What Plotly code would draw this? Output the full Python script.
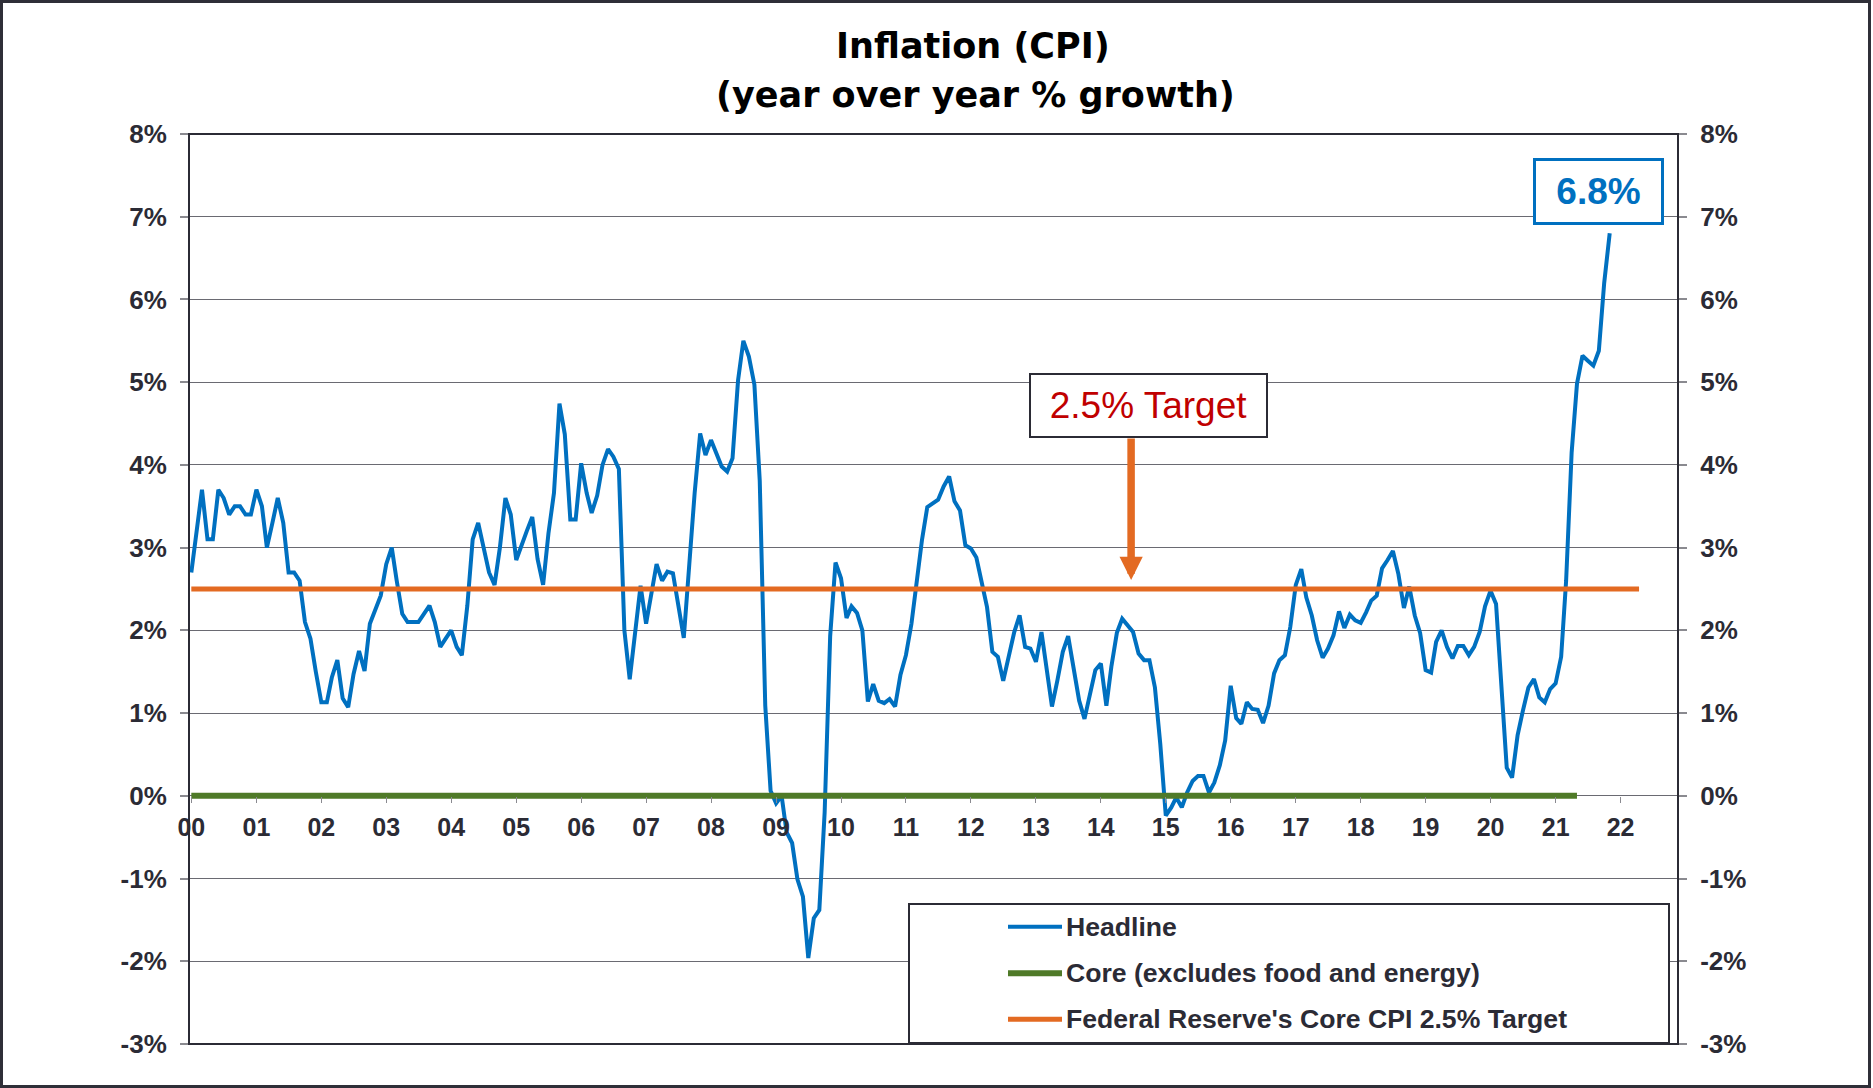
import pandas as pd
import plotly.graph_objects as go

# ---------------- data ----------------
# Headline CPI, year-over-year % growth, monthly Jan 2000 .. Nov 2021
headline_2000 = [2.7, 3.2, 3.7, 3.1, 3.1, 3.7, 3.6, 3.4, 3.5, 3.5, 3.4, 3.4]
headline_2001 = [3.7, 3.5, 3.0, 3.3, 3.6, 3.3, 2.7, 2.7, 2.6, 2.1, 1.9, 1.5]
headline_2002 = [1.13, 1.13, 1.43, 1.64, 1.18, 1.07, 1.47, 1.75, 1.51, 2.08, 2.25, 2.42]
headline_2003 = [2.8, 3.0, 2.6, 2.2, 2.1, 2.1, 2.1, 2.2, 2.3, 2.1, 1.8, 1.9]
headline_2004 = [2.0, 1.8, 1.7, 2.3, 3.1, 3.3, 3.0, 2.7, 2.55, 3.0, 3.6, 3.4]
headline_2005 = [2.85, 3.05, 3.2, 3.37, 2.86, 2.55, 3.17, 3.66, 4.74, 4.37, 3.34, 3.34]
headline_2006 = [4.02, 3.66, 3.42, 3.63, 4.0, 4.19, 4.1, 3.95, 2.0, 1.41, 1.98, 2.54]
headline_2007 = [2.08, 2.45, 2.8, 2.6, 2.71, 2.69, 2.3, 1.91, 2.8, 3.66, 4.38, 4.12]
headline_2008 = [4.3, 4.13, 3.98, 3.92, 4.08, 5.02, 5.5, 5.31, 4.97, 3.81, 1.09, 0.06]
headline_2009 = [-0.09, 0.0, -0.44, -0.57, -1.01, -1.22, -1.96, -1.48, -1.38, -0.2, 1.93, 2.82]
headline_2010 = [2.63, 2.15, 2.29, 2.21, 2.0, 1.14, 1.35, 1.15, 1.12, 1.17, 1.08, 1.46]
headline_2011 = [1.7, 2.08, 2.57, 3.09, 3.49, 3.53, 3.58, 3.74, 3.86, 3.56, 3.45, 3.03]
headline_2012 = [2.99, 2.88, 2.61, 2.28, 1.74, 1.68, 1.39, 1.7, 1.98, 2.18, 1.8, 1.78]
headline_2013 = [1.62, 1.98, 1.52, 1.08, 1.39, 1.74, 1.93, 1.52, 1.15, 0.93, 1.21, 1.52]
headline_2014 = [1.6, 1.09, 1.56, 1.97, 2.14, 2.06, 1.98, 1.72, 1.64, 1.64, 1.31, 0.63]
headline_2015 = [-0.24, -0.14, -0.02, -0.14, 0.04, 0.18, 0.24, 0.24, 0.04, 0.16, 0.37, 0.67]
headline_2016 = [1.33, 0.94, 0.87, 1.13, 1.05, 1.04, 0.88, 1.09, 1.48, 1.64, 1.7, 2.04]
headline_2017 = [2.55, 2.74, 2.4, 2.18, 1.88, 1.67, 1.78, 1.94, 2.23, 2.03, 2.19, 2.12]
headline_2018 = [2.09, 2.22, 2.36, 2.42, 2.75, 2.85, 2.96, 2.68, 2.27, 2.53, 2.18, 1.97]
headline_2019 = [1.52, 1.49, 1.86, 2.0, 1.8, 1.66, 1.81, 1.81, 1.7, 1.8, 1.98, 2.29]
headline_2020 = [2.48, 2.32, 1.43, 0.34, 0.22, 0.73, 1.03, 1.31, 1.41, 1.19, 1.13, 1.29]
headline_2021 = [1.36, 1.68, 2.6, 4.15, 4.98, 5.32, 5.26, 5.2, 5.38, 6.2, 6.8]

headline_yoy = (headline_2000 + headline_2001 + headline_2002 + headline_2003 +
                headline_2004 + headline_2005 + headline_2006 + headline_2007 +
                headline_2008 + headline_2009 + headline_2010 + headline_2011 +
                headline_2012 + headline_2013 + headline_2014 + headline_2015 +
                headline_2016 + headline_2017 + headline_2018 + headline_2019 +
                headline_2020 + headline_2021)
headline_start = "2000-01-01"

# Core CPI series as drawn in the picture: flat at 0%, Jan 2000 .. May 2021
core_yoy = [
    0, 0, 0, 0, 0, 0, 0, 0, 0, 0, 0, 0,  # 2000
    0, 0, 0, 0, 0, 0, 0, 0, 0, 0, 0, 0,  # 2001
    0, 0, 0, 0, 0, 0, 0, 0, 0, 0, 0, 0,  # 2002
    0, 0, 0, 0, 0, 0, 0, 0, 0, 0, 0, 0,  # 2003
    0, 0, 0, 0, 0, 0, 0, 0, 0, 0, 0, 0,  # 2004
    0, 0, 0, 0, 0, 0, 0, 0, 0, 0, 0, 0,  # 2005
    0, 0, 0, 0, 0, 0, 0, 0, 0, 0, 0, 0,  # 2006
    0, 0, 0, 0, 0, 0, 0, 0, 0, 0, 0, 0,  # 2007
    0, 0, 0, 0, 0, 0, 0, 0, 0, 0, 0, 0,  # 2008
    0, 0, 0, 0, 0, 0, 0, 0, 0, 0, 0, 0,  # 2009
    0, 0, 0, 0, 0, 0, 0, 0, 0, 0, 0, 0,  # 2010
    0, 0, 0, 0, 0, 0, 0, 0, 0, 0, 0, 0,  # 2011
    0, 0, 0, 0, 0, 0, 0, 0, 0, 0, 0, 0,  # 2012
    0, 0, 0, 0, 0, 0, 0, 0, 0, 0, 0, 0,  # 2013
    0, 0, 0, 0, 0, 0, 0, 0, 0, 0, 0, 0,  # 2014
    0, 0, 0, 0, 0, 0, 0, 0, 0, 0, 0, 0,  # 2015
    0, 0, 0, 0, 0, 0, 0, 0, 0, 0, 0, 0,  # 2016
    0, 0, 0, 0, 0, 0, 0, 0, 0, 0, 0, 0,  # 2017
    0, 0, 0, 0, 0, 0, 0, 0, 0, 0, 0, 0,  # 2018
    0, 0, 0, 0, 0, 0, 0, 0, 0, 0, 0, 0,  # 2019
    0, 0, 0, 0, 0, 0, 0, 0, 0, 0, 0, 0,  # 2020
    0, 0, 0, 0, 0,                       # 2021
]
core_start = "2000-01-01"

# Federal Reserve's 2.5% target line
target_dates = ["2000-01-01", "2022-04-15"]
target_values = [2.5, 2.5]

# axis ticks
year_tick_dates = ["2000-01-01", "2001-01-01", "2002-01-01", "2003-01-01", "2004-01-01",
                   "2005-01-01", "2006-01-01", "2007-01-01", "2008-01-01", "2009-01-01",
                   "2010-01-01", "2011-01-01", "2012-01-01", "2013-01-01", "2014-01-01",
                   "2015-01-01", "2016-01-01", "2017-01-01", "2018-01-01", "2019-01-01",
                   "2020-01-01", "2021-01-01", "2022-01-01"]
year_tick_labels = ["00", "01", "02", "03", "04", "05", "06", "07", "08", "09", "10",
                    "11", "12", "13", "14", "15", "16", "17", "18", "19", "20", "21", "22"]
y_tick_values = [-3, -2, -1, 0, 1, 2, 3, 4, 5, 6, 7, 8]
y_tick_labels = ["-3%", "-2%", "-1%", "0%", "1%", "2%", "3%", "4%", "5%", "6%", "7%", "8%"]

series_names = ["Headline", "Core (excludes food and energy)",
                "Federal Reserve's Core CPI 2.5% Target"]
latest_label = "6.8%"
target_label = "2.5% Target"
title_line1 = "Inflation (CPI)"
title_line2 = "(year over year % growth)"

# arrow pointing at the target line
arrow_date = "2014-06-20"
arrow_value = 2.61

# ---------------- styling / layout ----------------
W, H = 1873, 1088
L, R, T, B = 189, 1678, 134, 1044

def px_x(X):
    return (X - L) / (R - L)

def px_y(Y):
    return (B - Y) / (B - T)

BLUE = "#0070c0"
GREEN = "#4f7a28"
ORANGE = "#e36a22"
DARK = "#2b2b35"
GRID = "#6a6a72"
ARIAL = "Liberation Sans, Arial, sans-serif"

headline_dates = pd.date_range(headline_start, periods=len(headline_yoy), freq="MS")
core_dates = pd.date_range(core_start, periods=len(core_yoy), freq="MS")

fig = go.Figure()
fig.add_trace(go.Scatter(x=headline_dates, y=headline_yoy, mode="lines",
                         name=series_names[0], line=dict(color=BLUE, width=4),
                         showlegend=False))
fig.add_trace(go.Scatter(x=core_dates, y=core_yoy, mode="lines",
                         name=series_names[1], line=dict(color=GREEN, width=6),
                         showlegend=False))
fig.add_trace(go.Scatter(x=target_dates, y=target_values, mode="lines",
                         name=series_names[2], line=dict(color=ORANGE, width=5),
                         showlegend=False, yaxis="y2"))

tickfont = dict(family=ARIAL, size=26, color=DARK, weight="bold")

fig.update_layout(
    width=W, height=H,
    margin=dict(l=L, r=W - R, t=T, b=H - B, pad=0),
    paper_bgcolor="white", plot_bgcolor="white",
    showlegend=False,
    xaxis=dict(type="date", range=["1999-12-19", "2022-11-20"],
               tickmode="array", tickvals=year_tick_dates, ticktext=year_tick_labels,
               anchor="free", position=3 / 11,
               showgrid=False, zeroline=False, showline=False,
               ticks="outside", ticklen=6, tickwidth=1, tickcolor="#8a8a90",
               tickfont=dict(family=ARIAL, size=25, color=DARK, weight="bold"),
               ticklabelstandoff=3),
    yaxis=dict(range=[-3, 8], tickmode="array", tickvals=y_tick_values,
               ticktext=y_tick_labels, showgrid=True, gridcolor=GRID, gridwidth=1,
               zeroline=False, showline=False,
               ticks="outside", ticklen=8, tickwidth=1.5, tickcolor="#8a8a90",
               tickfont=tickfont, ticklabelstandoff=8),
    yaxis2=dict(range=[-3, 8], overlaying="y", side="right", tickmode="array",
                tickvals=y_tick_values, ticktext=y_tick_labels, showgrid=False,
                zeroline=False, showline=False,
                ticks="outside", ticklen=8, tickwidth=1.5, tickcolor="#8a8a90",
                tickfont=tickfont, ticklabelstandoff=8),
)

shapes = []
# outer picture frame
shapes.append(dict(type="rect", xref="paper", yref="paper",
                   x0=px_x(1.5), x1=px_x(1869.5), y0=px_y(1086.5), y1=px_y(1.5),
                   line=dict(color="#2f2f38", width=3), layer="above"))
# plot frame
shapes.append(dict(type="rect", xref="paper", yref="paper", x0=0, x1=1, y0=0, y1=1,
                   line=dict(color=DARK, width=2), layer="above"))
# legend box
shapes.append(dict(type="rect", xref="paper", yref="paper",
                   x0=px_x(909), x1=px_x(1669), y0=px_y(1043), y1=px_y(904),
                   fillcolor="white", line=dict(color=DARK, width=2), layer="above"))
legend_rows = [926.7, 973.3, 1019.3]
legend_colors = [BLUE, GREEN, ORANGE]
legend_widths = [4, 6, 5]
for row_y, col, lw in zip(legend_rows, legend_colors, legend_widths):
    shapes.append(dict(type="line", xref="paper", yref="paper",
                       x0=px_x(1008), x1=px_x(1062), y0=px_y(row_y), y1=px_y(row_y),
                       line=dict(color=col, width=lw), layer="above"))
fig.update_layout(shapes=shapes)

annotations = []
annotations.append(dict(text=title_line1, xref="paper", yref="paper",
                        x=px_x(973), y=px_y(46), xanchor="center", yanchor="middle",
                        showarrow=False,
                        font=dict(family="DejaVu Sans, sans-serif", size=35,
                                  color="black", weight="bold")))
annotations.append(dict(text=title_line2, xref="paper", yref="paper",
                        x=px_x(975), y=px_y(95), xanchor="center", yanchor="middle",
                        showarrow=False,
                        font=dict(family="DejaVu Sans, sans-serif", size=35,
                                  color="black", weight="bold")))
# 2.5% Target label box
annotations.append(dict(text=target_label, xref="paper", yref="paper",
                        x=px_x(1148), y=px_y(405), xanchor="center", yanchor="middle",
                        showarrow=False, width=235, height=61, borderpad=0,
                        bordercolor=DARK, borderwidth=2, bgcolor="white",
                        font=dict(family=ARIAL, size=37, color="#c00000")))
# arrow to target line
annotations.append(dict(text="", x=arrow_date, y=arrow_value, xref="x", yref="y",
                        showarrow=True, ax=0, ay=-143, arrowhead=2, arrowsize=0.62,
                        arrowwidth=7.5, arrowcolor=ORANGE, standoff=0))
# 6.8% label box
annotations.append(dict(text=latest_label, xref="paper", yref="paper",
                        x=px_x(1598), y=px_y(191.7), xanchor="center", yanchor="middle",
                        showarrow=False, width=125, height=61, borderpad=0,
                        bordercolor=BLUE, borderwidth=3, bgcolor="white",
                        font=dict(family=ARIAL, size=37, color=BLUE, weight="bold")))
# legend texts
for row_y, name in zip(legend_rows, series_names):
    annotations.append(dict(text=name, xref="paper", yref="paper",
                            x=px_x(1064), y=px_y(row_y), xanchor="left", yanchor="middle",
                            showarrow=False,
                            font=dict(family=ARIAL, size=26.6, color=DARK, weight="bold")))
fig.update_layout(annotations=annotations)

# remove the default 8px page margin so the figure sits at the window's top-left corner
fig.write_html("out.html",
               config={"displayModeBar": False},
               post_script="document.body.style.margin='0px';"
                           "document.body.style.overflow='hidden';")
